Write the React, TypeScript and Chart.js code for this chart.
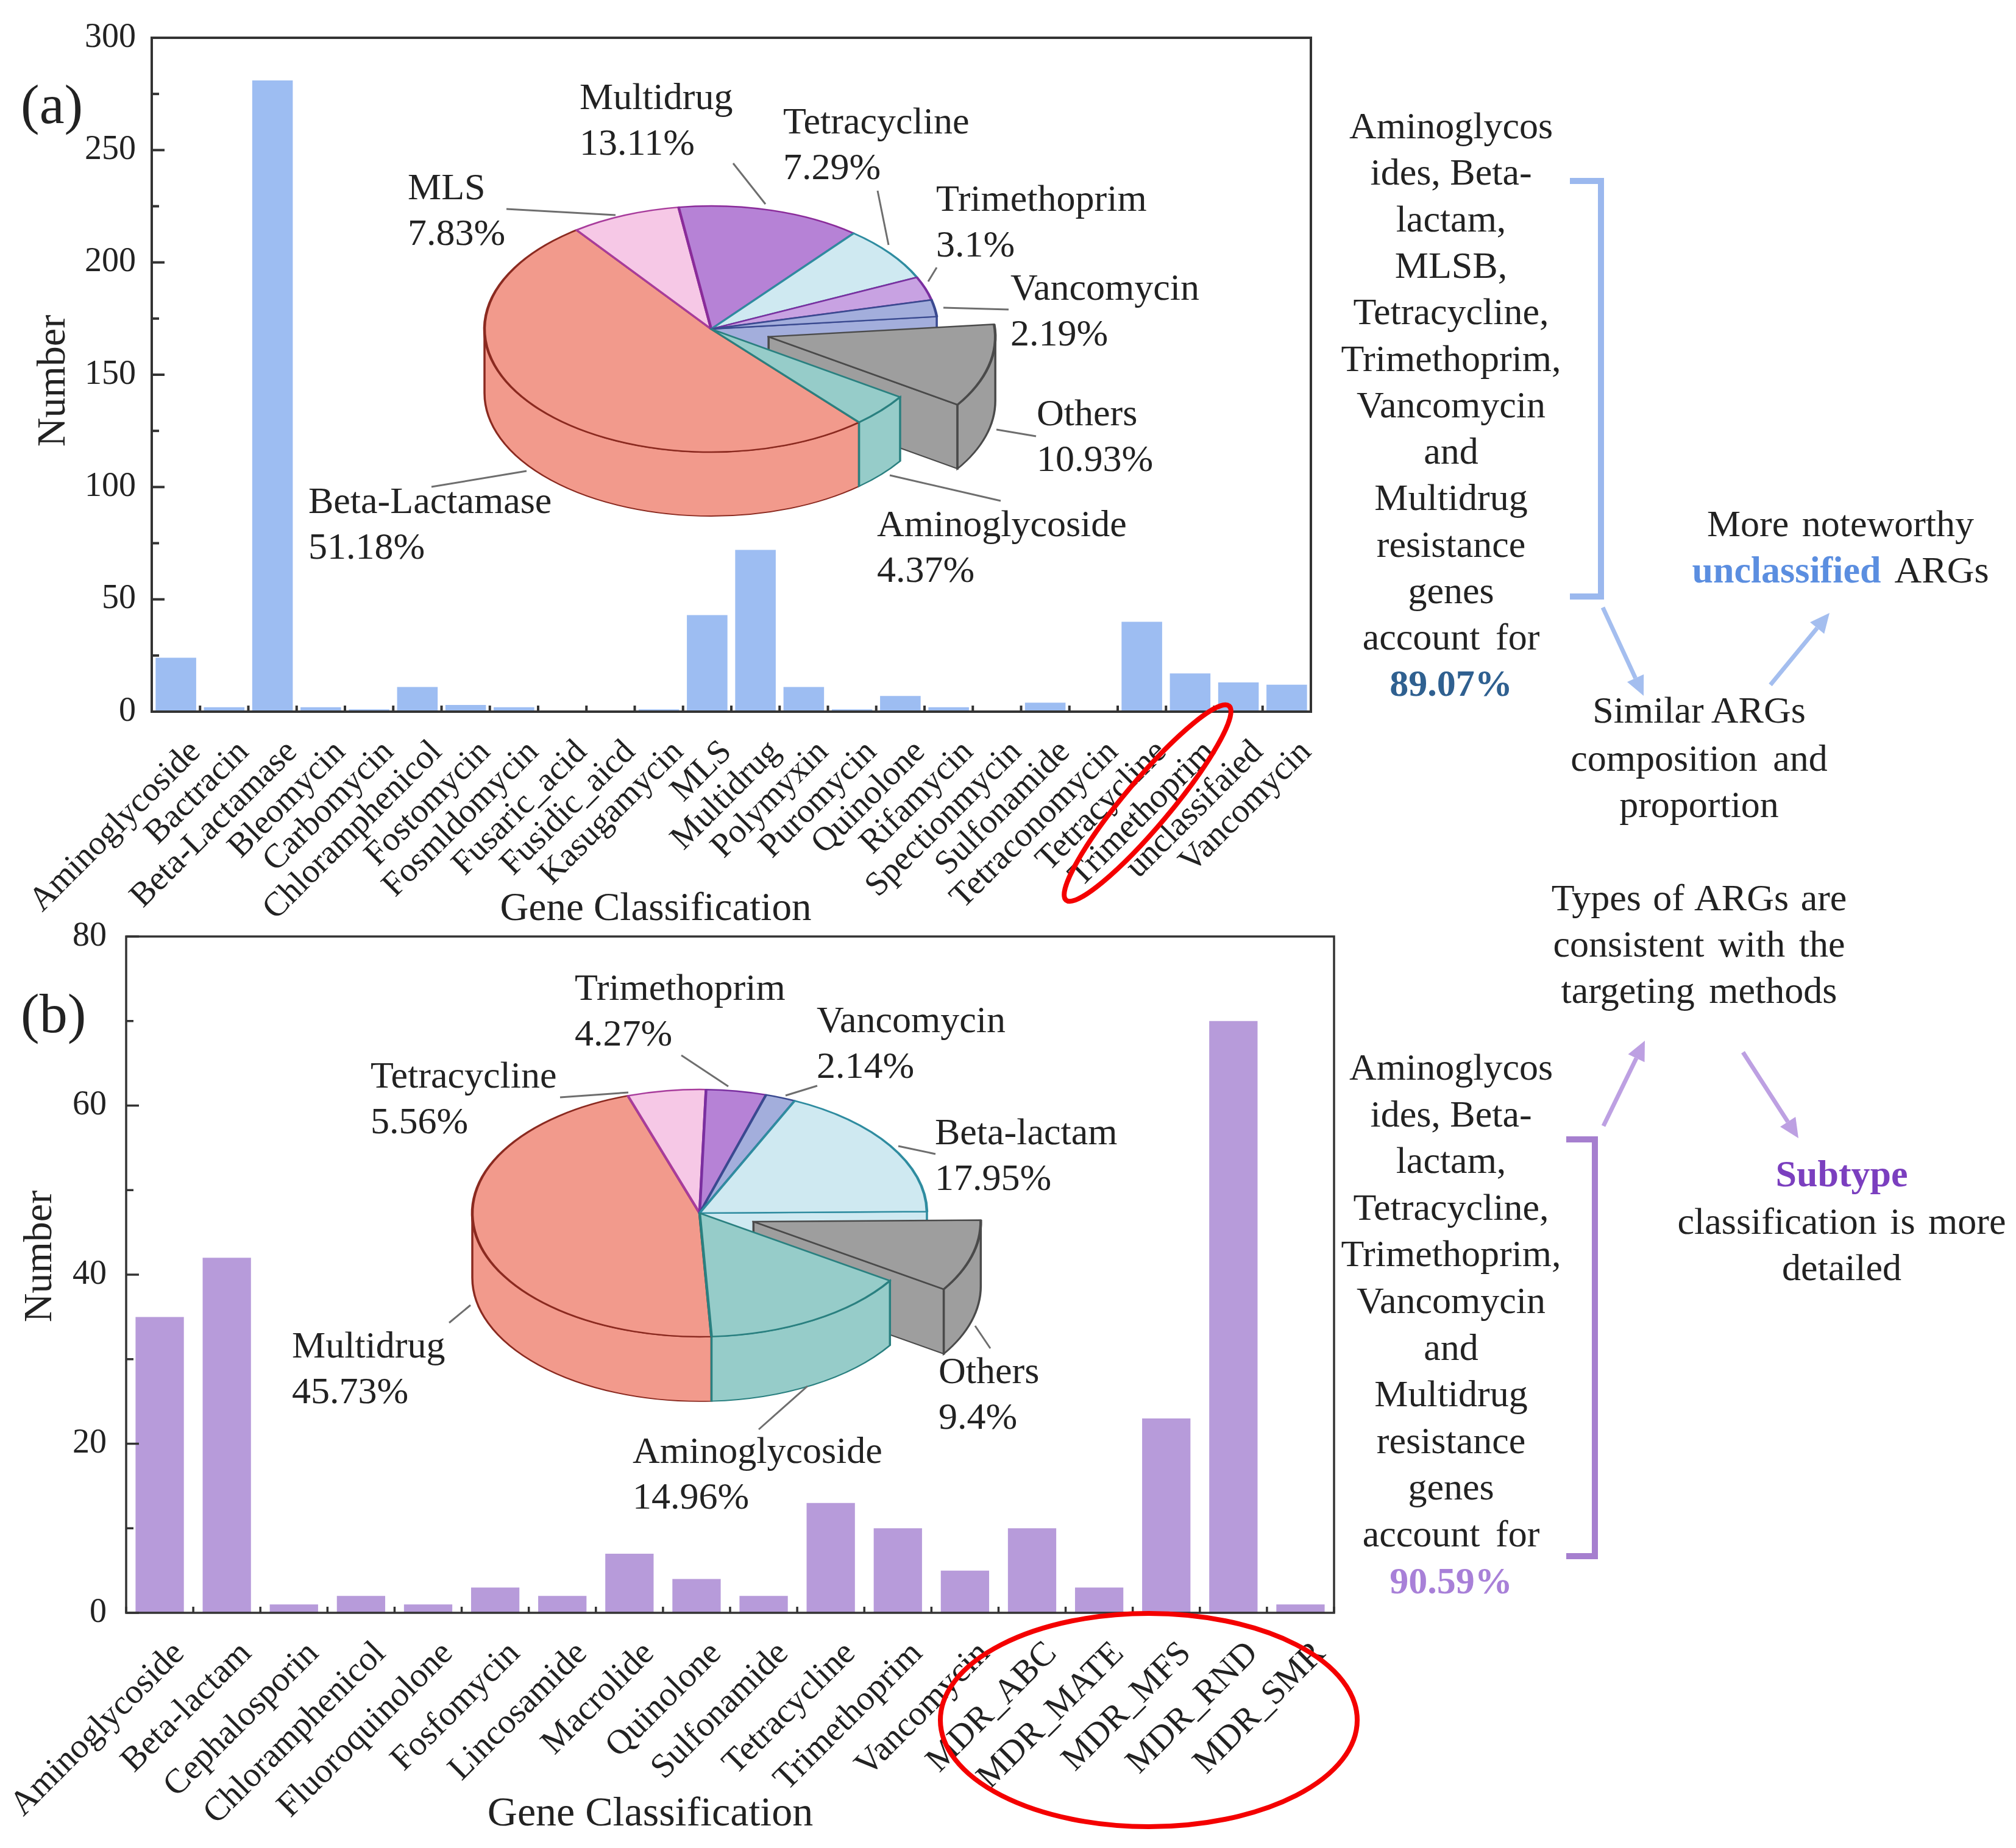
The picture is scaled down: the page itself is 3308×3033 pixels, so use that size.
import React, { useEffect, useRef } from "react";
import { Chart, registerables } from "chart.js";

Chart.register(...registerables);

// ---------- data ----------
const categoriesA = ["Aminoglycoside", "Bactracin", "Beta-Lactamase", "Bleomycin", "Carbomycin", "Chloramphenicol", "Fostomycin", "Fosmldomycin", "Fusaric_acid", "Fusidic_aicd", "Kasugamycin", "MLS", "Multidrug", "Polymyxin", "Puromycin", "Quinolone", "Rifamycin", "Spectionmycin", "Sulfonamide", "Tetraconomycin", "Tetracycline", "Trimethoprim", "unclassifaied", "Vancomycin"];
const valuesA = [24, 2, 281, 2, 1, 11, 3, 2, 0, 0, 1, 43, 72, 11, 1, 7, 2, 0, 4, 0, 40, 17, 13, 12];

const categoriesB = ["Aminoglycoside", "Beta-lactam", "Cephalosporin", "Chloramphenicol", "Fluoroquinolone", "Fosfomycin", "Lincosamide", "Macrolide", "Quinolone", "Sulfonamide", "Tetracycline", "Trimethoprim", "Vancomycin", "MDR_ABC", "MDR_MATE", "MDR_MFS", "MDR_RND", "MDR_SMR"];
const valuesB = [35, 42, 1, 2, 1, 3, 2, 7, 4, 2, 13, 10, 5, 10, 3, 23, 70, 1];

const pieLabelsA = ["Beta-Lactamase", "MLS", "Multidrug", "Tetracycline", "Trimethoprim", "Vancomycin", "Others", "Aminoglycoside"];
const pieValuesA = [51.18, 7.83, 13.11, 7.29, 3.1, 2.19, 10.93, 4.37];
const pieFillsA = ["#F29A8C", "#F6C8E6", "#B682D6", "#CFE9F1", "#C8A2E2", "#A3AEDC", "#9E9E9E", "#96CCC9"];
const pieEdgesA = ["#8B2A20", "#A83C9C", "#8A2C9A", "#2F8CA0", "#7A2FA0", "#3A4A90", "#4A4A4A", "#2A8080"];

const pieLabelsB = ["Multidrug", "Tetracycline", "Trimethoprim", "Vancomycin", "Beta-lactam", "Others", "Aminoglycoside"];
const pieValuesB = [45.73, 5.56, 4.27, 2.14, 17.95, 9.4, 14.96];
const pieFillsB = ["#F29A8C", "#F6C8E6", "#B682D6", "#A3AEDC", "#CFE9F1", "#9E9E9E", "#96CCC9"];
const pieEdgesB = ["#8B2A20", "#A83C9C", "#7A2FA0", "#3A4A90", "#2F8CA0", "#4A4A4A", "#2A8080"];

// ---------- layout ----------
const SERIF = '"Liberation Serif", "Times New Roman", serif';
const INK = "#222222";
const AXIS = "#333333";

const pieAPos = [[506, 821], [669, 306], [951, 158], [1285, 198], [1536, 325], [1658, 471], [1701, 677], [1439, 859]];
const pieBPos = [[479, 2207], [608, 1764], [943, 1620], [1340, 1673], [1534, 1857], [1540, 2249], [1038, 2380]];

const leaders = [
  [708, 799, 864, 773], [831, 343, 1010, 353], [1203, 268, 1256, 335], [1440, 313, 1458, 402],
  [1537, 439, 1523, 462], [1548, 505, 1655, 508], [1635, 705, 1700, 716], [1460, 780, 1642, 822],
  [919, 1801, 1031, 1793], [1118, 1732, 1195, 1783], [1341, 1782, 1289, 1798], [1535, 1894, 1474, 1881],
  [1625, 2213, 1600, 2176], [737, 2171, 772, 2142], [1245, 2346, 1325, 2275],
];

const noteA = ["Aminoglycos", "ides, Beta-", "lactam,", "MLSB,", "Tetracycline,", "Trimethoprim,", "Vancomycin", "and", "Multidrug", "resistance", "genes", "account for"];
const noteB = ["Aminoglycos", "ides, Beta-", "lactam,", "Tetracycline,", "Trimethoprim,", "Vancomycin", "and", "Multidrug", "resistance", "genes", "account for"];

// ---------- chart helpers ----------
function framePlugin(minorStep: number, majorStep: number, lw: number) {
  return {
    id: "frame",
    afterDraw(chart: any) {
      const { ctx, chartArea: a, scales } = chart;
      ctx.save();
      ctx.strokeStyle = AXIS;
      ctx.lineWidth = lw;
      ctx.strokeRect(a.left, a.top, a.right - a.left, a.bottom - a.top);
      const y = scales.y;
      for (let v = 0; v <= y.max; v += minorStep) {
        const py = y.getPixelForValue(v);
        const len = v % majorStep === 0 ? 21 : 12;
        ctx.beginPath();
        ctx.moveTo(a.left, py);
        ctx.lineTo(a.left + len, py);
        ctx.stroke();
      }
      const x = scales.x;
      const half = (x.getPixelForValue(1) - x.getPixelForValue(0)) / 2;
      for (let i = 0; i <= x.ticks.length; i++) {
        const px = x.getPixelForValue(0) - half + i * half * 2;
        ctx.beginPath();
        ctx.moveTo(px, a.bottom);
        ctx.lineTo(px, a.bottom - 10);
        ctx.stroke();
      }
      ctx.restore();
    },
  };
}

function makeBar(canvas: HTMLCanvasElement, o: any) {
  return new Chart(canvas, {
    type: "bar",
    data: {
      labels: o.labels,
      datasets: [{ data: o.values, backgroundColor: o.color, borderWidth: 0, barPercentage: o.barPct, categoryPercentage: 1 }],
    },
    options: {
      animation: false,
      responsive: false,
      devicePixelRatio: 1,
      layout: { padding: { top: o.top, right: o.width - o.right, left: 0, bottom: 0 } },
      plugins: { legend: { display: false }, tooltip: { enabled: false } },
      scales: {
        x: {
          grid: { display: false },
          border: { display: false },
          ticks: {
            autoSkip: false,
            maxRotation: 45,
            minRotation: 45,
            padding: o.xPad,
            labelOffset: o.xShift,
            color: INK,
            font: { family: SERIF, size: o.catSize },
          },
          afterFit(s: any) {
            s.height = o.height - o.bottom;
            s.paddingLeft = 0;
            s.paddingRight = 0;
          },
        },
        y: {
          min: 0,
          max: o.max,
          grid: { display: false },
          border: { display: false },
          ticks: { stepSize: o.step, padding: o.yPad, color: INK, font: { family: SERIF, size: 56 } },
          afterFit(s: any) {
            s.width = o.left;
          },
        },
      },
    },
    plugins: [framePlugin(o.minor, o.step, o.lw)],
  } as any);
}

function piePlugin(k: number, depth: number, exploded: number, pull: number) {
  return {
    id: "tilt",
    afterDatasetsUpdate(chart: any) {
      const a = chart.getDatasetMeta(0).data[exploded];
      const mid = (a.startAngle + a.endAngle) / 2;
      a.x += Math.cos(mid) * pull;
      a.y += Math.sin(mid) * pull;
    },
    beforeDatasetsDraw(chart: any) {
      const ctx = chart.ctx;
      const arcs = chart.getDatasetMeta(0).data;
      const cx = arcs[0].x;
      const cy = arcs[0].y;
      ctx.save();
      ctx.translate(cx, cy);
      ctx.scale(1, k);
      ctx.translate(-cx, -cy);
      const d = depth / k;
      const order = arcs
        .map((a: any, i: number) => ({ a, i, s: Math.sin((a.startAngle + a.endAngle) / 2) }))
        .sort((p: any, q: any) => p.s - q.s);
      for (const { a, i } of order) {
        const { x, y } = a;
        const R = a.outerRadius;
        ctx.fillStyle = a.options.backgroundColor;
        ctx.strokeStyle = a.options.borderColor;
        ctx.lineWidth = 3.5;
        const radial = (ang: number) => {
          const ex = x + Math.cos(ang) * R;
          const ey = y + Math.sin(ang) * R;
          ctx.beginPath();
          ctx.moveTo(x, y);
          ctx.lineTo(ex, ey);
          ctx.lineTo(ex, ey + d);
          ctx.lineTo(x, y + d);
          ctx.closePath();
          ctx.fill();
          ctx.stroke();
        };
        if (i === exploded) {
          if (Math.cos(a.endAngle) > 0) radial(a.endAngle);
          if (Math.cos(a.startAngle) < 0) radial(a.startAngle);
        }
        if (i === exploded - 1 && Math.cos(a.endAngle) > 0) radial(a.endAngle);
        for (let n = -1; n <= 2; n++) {
          const from = Math.max(a.startAngle, n * 2 * Math.PI);
          const to = Math.min(a.endAngle, n * 2 * Math.PI + Math.PI);
          if (to <= from) continue;
          ctx.beginPath();
          ctx.arc(x, y, R, from, to);
          ctx.arc(x, y + d, R, to, from, true);
          ctx.closePath();
          ctx.fill();
          ctx.stroke();
        }
      }
    },
    afterDatasetsDraw(chart: any) {
      chart.ctx.restore();
    },
  };
}

function makePie(canvas: HTMLCanvasElement, o: any) {
  return new Chart(canvas, {
    type: "pie",
    data: {
      labels: o.labels,
      datasets: [{
        data: o.values,
        backgroundColor: o.fills,
        borderColor: o.edges,
        borderWidth: 4.5,
        borderJoinStyle: "round",
        hoverOffset: 0,
        clip: false,
      }],
    },
    options: {
      animation: false,
      responsive: false,
      devicePixelRatio: 1,
      rotation: o.rotation,
      radius: o.radius,
      layout: { padding: 0 },
      plugins: { legend: { display: false }, tooltip: { enabled: false } },
    },
    plugins: [piePlugin(o.k, o.depth, o.labels.indexOf("Others"), o.pull)],
  } as any);
}

// ---------- DOM pieces ----------
function T(p: { x: number; y: number; size?: number; center?: boolean; color?: string; bold?: boolean; rotate?: boolean; children: any; ws?: number }) {
  const tr = p.rotate
    ? "translate(-50%,-50%) rotate(-90deg)"
    : p.center
      ? "translate(-50%,-50%)"
      : "translateY(-50%)";
  return (
    <div
      style={{
        position: "absolute",
        left: p.x,
        top: p.y,
        transform: tr,
        fontFamily: SERIF,
        fontSize: p.size || 62,
        lineHeight: 1,
        whiteSpace: "pre",
        color: p.color || INK,
        fontWeight: p.bold ? 700 : 400,
        wordSpacing: p.ws || 0,
      }}
    >
      {p.children}
    </div>
  );
}

function Arrow({ x1, y1, x2, y2, color }: { x1: number; y1: number; x2: number; y2: number; color: string }) {
  const ang = Math.atan2(y2 - y1, x2 - x1);
  const L = 32;
  const W = 15;
  const bx = x2 - Math.cos(ang) * L;
  const by = y2 - Math.sin(ang) * L;
  const nx = -Math.sin(ang) * W;
  const ny = Math.cos(ang) * W;
  return (
    <g>
      <line x1={x1} y1={y1} x2={bx} y2={by} stroke={color} strokeWidth={7} />
      <polygon points={`${x2},${y2} ${bx + nx},${by + ny} ${bx - nx},${by - ny}`} fill={color} />
    </g>
  );
}

const abs = (left: number, top: number): React.CSSProperties => ({ position: "absolute", left, top, display: "block" });

export default function App() {
  const barA = useRef<HTMLCanvasElement>(null);
  const barB = useRef<HTMLCanvasElement>(null);
  const pieA = useRef<HTMLCanvasElement>(null);
  const pieB = useRef<HTMLCanvasElement>(null);

  useEffect(() => {
    const charts = [
      makeBar(barA.current!, {
        labels: categoriesA, values: valuesA, color: "#9DBDF2", barPct: 0.84, width: 2300, height: 1530,
        left: 249, right: 2151, top: 62, bottom: 1168, max: 300, step: 50, minor: 25, lw: 4,
        catSize: 56, xPad: 26, xShift: 32, yPad: 18,
      }),
      makeBar(barB.current!, {
        labels: categoriesB, values: valuesB, color: "#B79BDA", barPct: 0.72, width: 2300, height: 1573,
        left: 207, right: 2189, top: 77, bottom: 1187, max: 80, step: 20, minor: 10, lw: 3.5,
        catSize: 57, xPad: 26, xShift: 32, yPad: 24,
      }),
      makePie(pieA.current!, {
        labels: pieLabelsA, values: pieValuesA, fills: pieFillsA, edges: pieEdgesA,
        rotation: 139.3, radius: 372, k: 0.543, depth: 105, pull: 97,
      }),
      makePie(pieB.current!, {
        labels: pieLabelsB, values: pieValuesB, fills: pieFillsB, edges: pieEdgesB,
        rotation: 177, radius: 373, k: 0.544, depth: 106, pull: 92,
      }),
    ];
    return () => charts.forEach((c) => c.destroy());
  }, []);

  return (
    <div style={{ position: "absolute", left: 0, top: 0, width: 3308, height: 3033, overflow: "hidden", background: "#fff" }}>
      <canvas ref={barA} width={2300} height={1530} style={abs(0, 0)} />
      <canvas ref={barB} width={2300} height={1573} style={abs(0, 1460)} />
      <canvas ref={pieA} width={1300} height={1300} style={abs(1167 - 650, 540 - 650)} />
      <canvas ref={pieB} width={1300} height={1300} style={abs(1148 - 650, 1991 - 650)} />

      <svg width={3308} height={3033} style={abs(0, 0)}>
        {leaders.map((l, i) => (
          <line key={i} x1={l[0]} y1={l[1]} x2={l[2]} y2={l[3]} stroke="#6e6e6e" strokeWidth={3} />
        ))}
        <ellipse cx={1883} cy={1318} rx={208} ry={38} fill="none" stroke="#F40000" strokeWidth={8} transform="rotate(-50 1883 1318)" />
        <ellipse cx={1885} cy={2823} rx={342} ry={175} fill="none" stroke="#F40000" strokeWidth={8} />
        <polyline points="2576,297 2627,297 2627,979 2576,979" fill="none" stroke="#9BB8EE" strokeWidth={10} />
        <polyline points="2570,1870 2617,1870 2617,2554 2570,2554" fill="none" stroke="#A67FCF" strokeWidth={10} />
        <Arrow x1={2630} y1={997} x2={2697} y2={1142} color="#A4BEEF" />
        <Arrow x1={2905} y1={1124} x2={3002} y2={1006} color="#A4BEEF" />
        <Arrow x1={2631} y1={1848} x2={2699} y2={1708} color="#BDA0E2" />
        <Arrow x1={2860} y1={1727} x2={2951} y2={1868} color="#BDA0E2" />
      </svg>

      <T x={34} y={171} size={92}>(a)</T>
      <T x={34} y={1663} size={92}>(b)</T>
      <T x={84} y={625} size={66} rotate>Number</T>
      <T x={62} y={2062} size={66} rotate>Number</T>
      <T x={1076} y={1488} size={65} center>Gene Classification</T>
      <T x={1067} y={2973} size={68} center>Gene Classification</T>

      {pieLabelsA.map((l, i) => (
        <React.Fragment key={l}>
          <T x={pieAPos[i][0]} y={pieAPos[i][1]}>{l}</T>
          <T x={pieAPos[i][0]} y={pieAPos[i][1] + 75}>{pieValuesA[i] + "%"}</T>
        </React.Fragment>
      ))}
      {pieLabelsB.map((l, i) => (
        <React.Fragment key={l}>
          <T x={pieBPos[i][0]} y={pieBPos[i][1]}>{l}</T>
          <T x={pieBPos[i][0]} y={pieBPos[i][1] + 75}>{pieValuesB[i] + "%"}</T>
        </React.Fragment>
      ))}

      {noteA.map((l, i) => (
        <T key={i} x={2381} y={206 + i * 76.3} center ws={l === "account for" ? 10 : 0}>{l}</T>
      ))}
      <T x={2381} y={1121} center bold color="#2F6090">89.07%</T>
      {noteB.map((l, i) => (
        <T key={i} x={2381} y={1751 + i * 76.6} center ws={l === "account for" ? 10 : 0}>{l}</T>
      ))}
      <T x={2381} y={2594} center bold color="#A880D8">90.59%</T>

      <T x={2788} y={1165} center>Similar ARGs</T>
      <T x={2788} y={1244} center ws={10}>composition and</T>
      <T x={2788} y={1320} center>proportion</T>
      <T x={3020} y={859} center ws={6}>More noteworthy</T>
      <T x={3020} y={935} center ws={10}>
        <span style={{ color: "#5B8EE0", fontWeight: 700 }}>unclassified</span> ARGs
      </T>
      <T x={2788} y={1473} center ws={4}>Types of ARGs are</T>
      <T x={2788} y={1549} center ws={7}>consistent with the</T>
      <T x={2788} y={1625} center ws={8}>targeting methods</T>
      <T x={3022} y={1926} center bold color="#7B3FBF">Subtype</T>
      <T x={3022} y={2004} center ws={6}>classification is more</T>
      <T x={3022} y={2080} center>detailed</T>
    </div>
  );
}
